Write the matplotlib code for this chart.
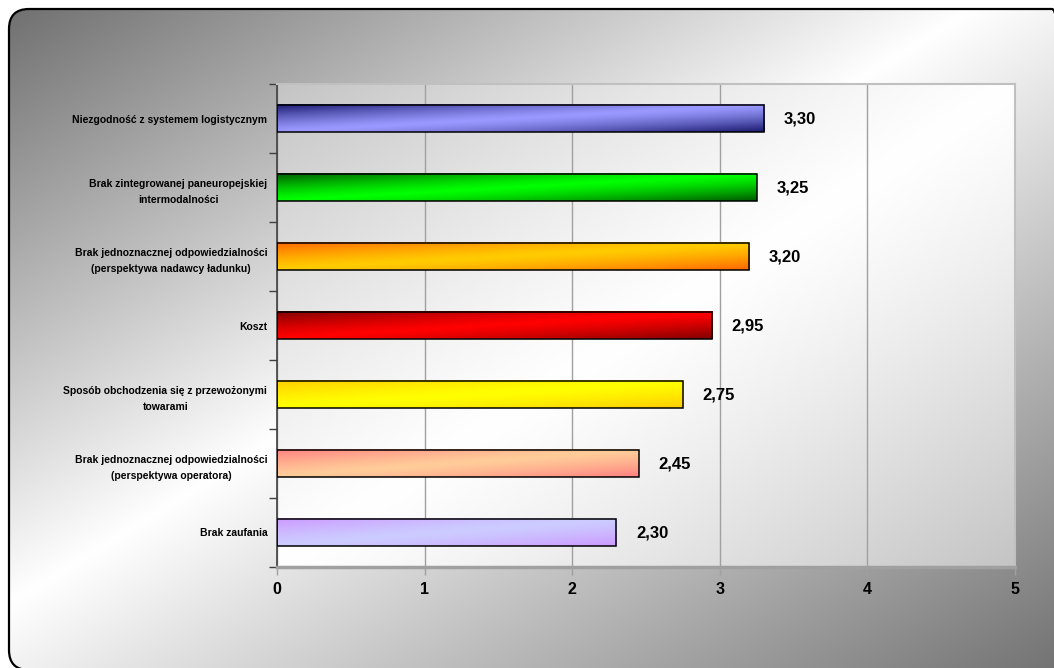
import numpy as np
import matplotlib
matplotlib.use('Agg')
import matplotlib.pyplot as plt
from matplotlib.patches import FancyBboxPatch
from matplotlib.colors import to_rgb

categories = [
    "Niezgodność z systemem logistycznym",
    "Brak zintegrowanej paneuropejskiej\nintermodalności",
    "Brak jednoznacznej odpowiedzialności\n(perspektywa nadawcy ładunku)",
    "Koszt",
    "Sposób obchodzenia się z przewożonymi\ntowarami",
    "Brak jednoznacznej odpowiedzialności\n(perspektywa operatora)",
    "Brak zaufania",
]
values = [3.30, 3.25, 3.20, 2.95, 2.75, 2.45, 2.30]
dark_colors = ['#1a1a70', '#005a00', '#ff6600', '#800000', '#ffcc00', '#ff8080', '#cc99ff']
light_colors = ['#9999ff', '#00ff00', '#ffcc00', '#ff0000', '#ffff00', '#ffcc99', '#ccccff']
xticks = [0, 1, 2, 3, 4, 5]

plt.rcParams['font.family'] = ['Liberation Sans', 'DejaVu Sans']

W, H = 1054, 668
fig = plt.figure(figsize=(W / 100, H / 100), dpi=100, facecolor='white')

# ---- background with rounded frame (pixel coordinates, y up) ----
bg = fig.add_axes([0, 0, 1, 1])
bg.axis('off')
yy, xx = np.mgrid[0:H, 0:W]          # row 0 = top of figure
s = ((xx - 9) / 1070 + (yy - 9) / 660) / 2
f = np.where(s < 0.45, s / 0.45, (1 - s) / 0.55)
f = np.clip(f, 0, 1)
gray = 0.44 + 0.56 * f
img = np.dstack([gray, gray, gray])
im = bg.imshow(img, extent=(0, W, 0, H), origin='upper', interpolation='bilinear',
               aspect='auto', zorder=0)
fx0, fy_top, fx1, fy_bot = 9, 9, 1072, 670
frame = FancyBboxPatch((fx0, H - fy_bot), fx1 - fx0, fy_bot - fy_top,
                       boxstyle='round,pad=0,rounding_size=20',
                       fc='none', ec='black', lw=1.6, zorder=1)
bg.add_patch(frame)
im.set_clip_path(frame)

# plot-area gradient
L, R, T, B = 277, 1015, 84, 567
pv, pu = np.mgrid[0:100, 0:200]
ps = (pu / 199 + pv / 99) / 2
pw = np.abs(2 * ps - 1) ** 1.2
pg = 1.0 - (1.0 - 0.77) * pw
bg.imshow(np.dstack([pg, pg, pg]), extent=(L, R, H - B, H - T), origin='upper',
          interpolation='bilinear', aspect='auto', zorder=0.5)
bg.set_xlim(0, W)
bg.set_ylim(0, H)

# ---- main axes ----
ax = fig.add_axes([L / W, 1 - B / H, (R - L) / W, (B - T) / H])
ax.set_facecolor('none')

h = 0.40
ypos = np.arange(len(categories))
for i, (v, dc, lc) in enumerate(zip(values, dark_colors, light_colors)):
    nx, ny = 300, 30
    xf = np.linspace(0, 1, nx)[None, :]
    yf = np.linspace(0, 1, ny)[:, None]
    ss = (xf + yf) / 2
    w = np.abs(2 * ss - 1) ** 1.3
    d = np.array(to_rgb(dc))
    l = np.array(to_rgb(lc))
    col = l[None, None, :] * (1 - w[..., None]) + d[None, None, :] * w[..., None]
    ax.imshow(col, extent=(0, v, i + h / 2, i - h / 2), aspect='auto',
              interpolation='bilinear', zorder=2)

ax.barh(ypos, values, height=h, facecolor='none', edgecolor='black', lw=1.1, zorder=3)

for i, v in enumerate(values):
    ax.annotate(f"{v:.2f}".replace('.', ','), xy=(v, i), xytext=(14, 0),
                textcoords='offset points', ha='left', va='center',
                fontsize=12, fontweight='bold', color='black')

ax.set_xlim(0, 5)
ax.set_ylim(len(categories) - 0.5, -0.5)
ax.set_aspect('auto')

ax.set_axisbelow(True)
ax.grid(axis='x', color='#a0a0a0', lw=1)
ax.grid(axis='y', visible=False)

ax.set_xticks(xticks)
ax.set_xticklabels([str(x) for x in xticks], fontsize=11.5, fontweight='bold')
ax.tick_params(axis='x', length=6, color='#a0a0a0', width=1, pad=5)

ax.set_yticks(np.arange(-0.5, len(categories), 1))
ax.set_yticklabels([])
ax.tick_params(axis='y', which='major', length=6, color='#404040', width=1)
ax.set_yticks(ypos, minor=True)
ax.set_yticklabels(categories, minor=True, fontsize=7.5, fontweight='bold',
                   multialignment='center', linespacing=1.85)
ax.tick_params(axis='y', which='minor', length=0, pad=7)

for sp in ['top', 'right']:
    ax.spines[sp].set_color('#c0c0c0')
    ax.spines[sp].set_linewidth(1.5)
ax.spines['bottom'].set_color('#a0a0a0')
ax.spines['bottom'].set_linewidth(2.5)
ax.spines['left'].set_color('#404040')
ax.spines['left'].set_linewidth(1.2)

fig.savefig('out.png', dpi=100, facecolor='white')
